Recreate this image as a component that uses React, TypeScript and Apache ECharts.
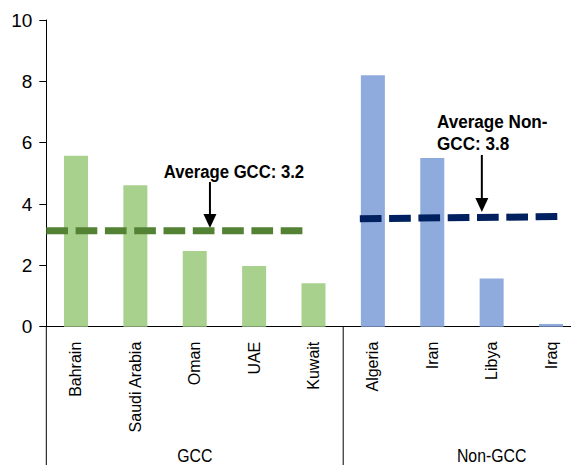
import React, { useEffect, useRef } from "react";
import * as echarts from "echarts";

const gccCountries = ["Bahrain", "Saudi Arabia", "Oman", "UAE", "Kuwait"];
const gccValues = [5.57, 4.61, 2.47, 1.98, 1.42];
const nonGccCountries = ["Algeria", "Iran", "Libya", "Iraq"];
const nonGccValues = [8.2, 5.5, 1.57, 0.09];
const groupLabels = ["GCC", "Non-GCC"];
// group centres and group boundaries, in category-slot units
const groupCenters = [2.5, 7.5];
const groupBounds = [0, 5];
// average lines (x in category-slot units, y in value units)
const gccAvgLine = [[0, 3.13], [4.32, 3.13]];
const nonGccAvgLine = [[5.28, 3.52], [8.61, 3.59]];
const gccAvgLabel = "Average GCC: 3.2";
const nonGccAvgLabel = "Average Non-\nGCC: 3.8";
const gccLabelAt = [3.16, 5.04];
const gccArrow = [[2.756, 4.72], [2.756, 3.22]];
const nonGccLabelAt = [6.58, 6.31];
const nonGccArrow = [[7.335, 5.6], [7.335, 3.74]];

const FONT = "'Liberation Sans', Arial, sans-serif";
const W = 571;
const H = 465;

export default function App() {
  const ref = useRef<HTMLDivElement>(null);
  useEffect(() => {
    if (!ref.current) return;
    const chart = echarts.init(ref.current, null, { renderer: "svg" });
    const categories = [...gccCountries, ...nonGccCountries];
    const barData = [
      ...gccValues.map((v) => ({ value: v, itemStyle: { color: "#A9D18E" } })),
      ...nonGccValues.map((v) => ({ value: v, itemStyle: { color: "#8FAADC" } })),
    ];
    chart.setOption({
      animation: false,
      grid: {
        left: 46.3,
        width: 534.4,
        top: 20,
        height: 306.7,
        containLabel: false,
        outerBoundsMode: "none",
      },
      xAxis: [
        {
          type: "category",
          data: categories,
          axisLine: { lineStyle: { color: "#000", width: 1 } },
          axisTick: { show: false },
          axisLabel: {
            rotate: 90,
            margin: 15,
            color: "#000",
            fontSize: 16,
            fontFamily: FONT,
            interval: 0,
          },
        },
        { type: "value", min: 0, max: 9, show: false },
      ],
      yAxis: {
        type: "value",
        min: 0,
        max: 10,
        interval: 2,
        splitLine: { show: false },
        axisLine: { show: true, lineStyle: { color: "#000", width: 1 } },
        axisTick: { show: true, length: 7, lineStyle: { color: "#000" } },
        axisLabel: { color: "#000", fontSize: 19, fontFamily: FONT, margin: 14 },
      },
      series: [
        {
          type: "bar",
          xAxisIndex: 0,
          data: barData,
          barWidth: 24,
        },
        {
          type: "line",
          xAxisIndex: 1,
          data: gccAvgLine,
          symbol: "none",
          lineStyle: { color: "#548235", width: 7, type: [21.7, 7.6], cap: "butt" },
        },
        {
          type: "line",
          xAxisIndex: 1,
          data: nonGccAvgLine,
          symbol: "none",
          lineStyle: { color: "#002060", width: 7, type: [21.7, 7.6], cap: "butt" },
        },
      ],
    });

    const px = (p: number[]) => chart.convertToPixel({ seriesIndex: 1 }, p) as number[];
    const arrow = (a: number[][]) => {
      const top = px(a[0]);
      const tip = px(a[1]);
      return [
        {
          type: "line",
          shape: { x1: top[0], y1: top[1], x2: tip[0], y2: tip[1] - 12 },
          style: { stroke: "#000", lineWidth: 2 },
        },
        {
          type: "polygon",
          shape: {
            points: [
              [tip[0] - 6.5, tip[1] - 14],
              [tip[0] + 6.5, tip[1] - 14],
              [tip[0], tip[1]],
            ],
          },
          style: { fill: "#000" },
        },
      ];
    };
    const g1 = px(gccLabelAt);
    const g2 = px(nonGccLabelAt);
    const graphics: any[] = [
      ...arrow(gccArrow),
      ...arrow(nonGccArrow),
      {
        type: "text",
        x: g1[0],
        y: g1[1],
        scaleX: 0.88,
        style: {
          text: gccAvgLabel,
          fontSize: 19,
          fontWeight: "bold",
          fontFamily: FONT,
          fill: "#000",
          align: "center",
          verticalAlign: "middle",
        },
      },
      {
        type: "text",
        x: g2[0],
        y: g2[1],
        scaleX: 0.9,
        style: {
          text: nonGccAvgLabel,
          fontSize: 19,
          lineHeight: 22,
          fontWeight: "bold",
          fontFamily: FONT,
          fill: "#000",
          align: "left",
          verticalAlign: "middle",
        },
      },
    ];
    groupBounds.forEach((b) => {
      const p = px([b, 0]);
      graphics.push({
        type: "line",
        shape: { x1: p[0], y1: p[1], x2: p[0], y2: H },
        style: { stroke: "#000", lineWidth: 1 },
      });
    });
    groupLabels.forEach((t, i) => {
      const p = px([groupCenters[i], 0]);
      graphics.push({
        type: "text",
        x: p[0],
        y: p[1] + 120,
        scaleX: 0.88,
        style: {
          text: t,
          fontSize: 18,
          fontFamily: FONT,
          fill: "#000",
          align: "center",
          verticalAlign: "top",
        },
      });
    });
    chart.setOption({ graphic: graphics });
    return () => chart.dispose();
  }, []);
  return (
    <div
      ref={ref}
      style={{ position: "absolute", left: 0, top: 0, width: W, height: H, background: "#fff" }}
    />
  );
}
